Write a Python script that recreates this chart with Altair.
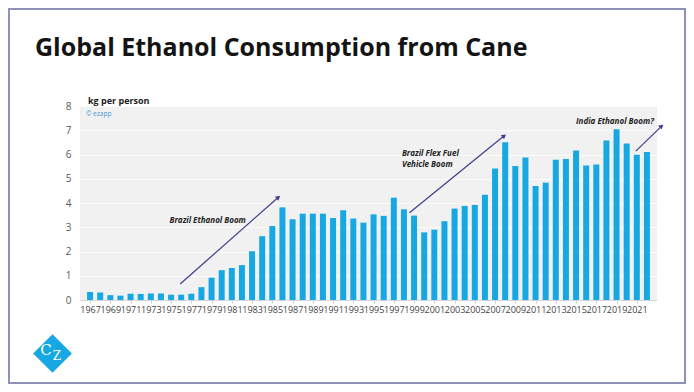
import altair as alt
import pandas as pd

# ---- data ----
years = list(range(1967, 2023))
kg_per_person = [0.33, 0.31, 0.20, 0.18, 0.26, 0.25, 0.27, 0.27, 0.22, 0.22,
                 0.26, 0.53, 0.92, 1.23, 1.32, 1.44, 2.01, 2.63, 3.05, 3.82,
                 3.33, 3.56, 3.56, 3.56, 3.38, 3.70, 3.36, 3.19, 3.53, 3.47,
                 4.22, 3.74, 3.48, 2.79, 2.90, 3.25, 3.77, 3.88, 3.92, 4.34,
                 5.42, 6.51, 5.53, 5.88, 4.70, 4.84, 5.78, 5.81, 6.16, 5.55,
                 5.59, 6.58, 7.04, 6.45, 5.99, 6.10]
x_tick_years = list(range(1967, 2022, 2))
y_ticks = list(range(0, 9))

ann_text = ["Brazil Ethanol Boom", "Brazil Flex Fuel", "Vehicle Boom", "India Ethanol Boom?"]
ann_year = [1974.85, 1997.8, 1997.8, 2015.0]
ann_value = [3.27, 6.02, 5.57, 7.34]

arrow_year_start = [1975.9, 1998.55, 2020.9]
arrow_val_start = [0.66, 3.60, 6.14]
arrow_year_end = [1985.6, 2007.9, 2023.45]
arrow_val_end = [4.24, 6.77, 7.17]
arrow_head_angle = [48.8, 51.1, 52.4]

title_text = "Global Ethanol Consumption from Cane"
y_title = "kg per person"
source_text = "© ezapp"

# ---- styles ----
BAR = "#17a8e3"
ARROW = "#3c3d8f"
FONT = "Open Sans"

bars_df = pd.DataFrame({"year": years, "value": kg_per_person})
ann_df = pd.DataFrame({"year": ann_year, "value": ann_value, "label": ann_text})
arrow_df = pd.DataFrame({"x0": arrow_year_start, "y0": arrow_val_start,
                         "x1": arrow_year_end, "y1": arrow_val_end,
                         "ang": arrow_head_angle})

x_scale = alt.Scale(domain=[1966.5, 2022.5], nice=False, zero=False)
y_scale = alt.Scale(domain=[0, 8], nice=False)

x_axis = alt.Axis(values=x_tick_years, format="d", labelFontSize=9, labelColor="#444",
                  tickColor="#cfcfcf", tickSize=3, domainColor="#d6d6d6", grid=False,
                  labelPadding=2, title=None, labelOverlap=False, labelFlush=False,
                  tickCount=len(x_tick_years))
y_axis = alt.Axis(values=y_ticks, labelFontSize=10, labelColor="#5a5a5a", ticks=False,
                  domain=False, gridColor="#fbfbfb", gridWidth=1, labelPadding=9, title=None,
                  labelOverlap=False, tickCount=len(y_ticks))


def X(field):
    return alt.X(field, scale=x_scale, axis=x_axis)


def Y(field):
    return alt.Y(field, scale=y_scale, axis=y_axis)


bars = alt.Chart(bars_df).mark_bar(color=BAR, size=6).encode(
    x=X("year:Q"), y=Y("value:Q"),
)

arrows = alt.Chart(arrow_df).mark_rule(color=ARROW, strokeWidth=1.2).encode(
    x=X("x0:Q"), x2="x1:Q", y=Y("y0:Q"), y2="y1:Q",
)
heads = alt.Chart(arrow_df).mark_point(shape="triangle-up", filled=True, color=ARROW,
                                       size=28, opacity=1).encode(
    x=X("x1:Q"), y=Y("y1:Q"),
    angle=alt.Angle("ang:Q", scale=None),
)

ann = alt.Chart(ann_df).mark_text(align="left", baseline="middle", font=FONT,
                                  fontSize=8, fontWeight="bold", fontStyle="italic",
                                  color="#222").encode(
    x=X("year:Q"), y=Y("value:Q"), text="label:N",
)

one = alt.Data(values=[{}])
title = alt.Chart(one).mark_text(align="left", baseline="alphabetic", font=FONT,
                                 fontSize=25, fontWeight="bold", color="#141414").encode(
    x=alt.value(-45), y=alt.value(-50), text=alt.value(title_text))
ytitle = alt.Chart(one).mark_text(align="left", baseline="middle", font=FONT,
                                  fontSize=9, fontWeight="bold", color="#1a1a1a").encode(
    x=alt.value(8), y=alt.value(-5), text=alt.value(y_title))
source = alt.Chart(one).mark_text(align="left", baseline="middle", font=FONT,
                                  fontSize=6.5, color="#4a9ad6").encode(
    x=alt.value(6), y=alt.value(8), text=alt.value(source_text))

logo = alt.Chart(one).mark_point(shape="diamond", filled=True, color=BAR, size=1500,
                                 opacity=1).encode(x=alt.value(-27.5), y=alt.value(247.5))
logo_c = alt.Chart(one).mark_text(font="DejaVu Serif", fontSize=15, color="white",
                                  baseline="middle", align="center").encode(
    x=alt.value(-34), y=alt.value(243.5), text=alt.value("C"))
logo_z = alt.Chart(one).mark_text(font="DejaVu Serif", fontSize=12, color="white",
                                  baseline="middle", align="center").encode(
    x=alt.value(-23), y=alt.value(250), text=alt.value("Z"))

frame = alt.Chart(one).mark_rect(fillOpacity=0, stroke="#8f91b8", strokeWidth=2).encode(
    x=alt.value(-71), x2=alt.value(605), y=alt.value(-97), y2=alt.value(277))

chart = alt.layer(bars, arrows, heads, ann, title, ytitle, source, logo, logo_c, logo_z, frame).properties(
    width=577, height=194,
    padding={"left": 72, "top": 98, "right": 29, "bottom": 84},
    autosize=alt.AutoSizeParams(type="none"),
    background="white",
).configure(font=FONT).configure_view(fill="#f1f1f1", strokeWidth=0)

chart.save("out.html", embed_options={"renderer": "svg", "actions": False})
